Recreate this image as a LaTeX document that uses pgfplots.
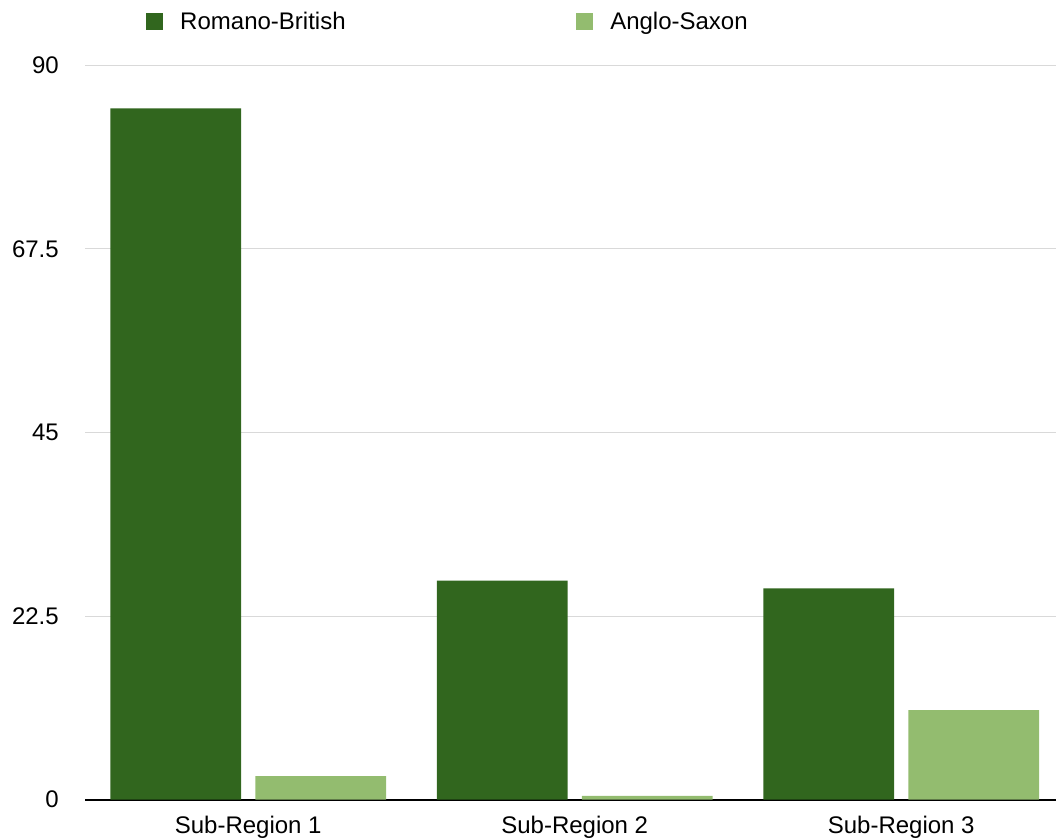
\documentclass[border=0pt]{standalone}
\usepackage{fontspec}
\setmainfont{Liberation Sans}
\usepackage{pgfplots}
\pgfplotsset{compat=1.18}

\definecolor{romano}{RGB}{49,102,30}
\definecolor{anglo}{RGB}{147,188,111}
\definecolor{gridgray}{RGB}{217,217,217}

\newcommand{\chartfont}{\fontsize{18}{21.6}\selectfont}

\begin{document}
\begin{tikzpicture}
\begin{axis}[
  at={(0,0)}, anchor=south west,
  scale only axis,
  width=728.25pt, height=550.5pt,
  xmin=-0.5, xmax=2.474,
  ymin=0, ymax=90,
  ytick={0,22.5,45,67.5,90},
  yticklabels={0,22.5,45,67.5,90},
  xtick={0,1,2},
  xticklabels={Sub-Region 1,Sub-Region 2,Sub-Region 3},
  /pgf/number format/assume math mode=true,
  major tick length=0pt,
  axis x line*=bottom,
  axis y line*=left,
  x axis line style={-, line width=1.5pt, black},
  y axis line style={draw=none},
  ymajorgrids,
  grid style={gridgray, line width=0.75pt},
  tick label style={font=\chartfont, inner sep=0pt},
  yticklabel style={xshift=-19.5pt},
  xticklabel style={yshift=-12.5pt},
  ybar, bar width=0.4,
  legend columns=2,
  legend style={
    at={(0.0628,1.0599)}, anchor=west,
    draw=none, fill=none, inner sep=0pt,
    font=\chartfont,
    nodes={inner sep=0pt},
    column sep=12.75pt,
  },
  legend image code/.code={\fill[#1] (0pt,-6.4pt) rectangle (12.75pt,6.4pt);},
]
\addplot[fill=romano, draw=none, bar shift=-0.222]
  coordinates {(0,84.75) (1,26.83) (2,25.9)};
\addlegendentry{\makebox[284.25pt][l]{Romano-British}}
\addplot[fill=anglo, draw=none, bar shift=0.222]
  coordinates {(0,2.88) (1,0.43) (2,10.97)};
\addlegendentry{Anglo-Saxon}
\end{axis}
\pgfresetboundingbox
\path[use as bounding box] (-63.75pt,-29.625pt) rectangle (728.25pt,599.625pt);
\end{tikzpicture}
\end{document}
